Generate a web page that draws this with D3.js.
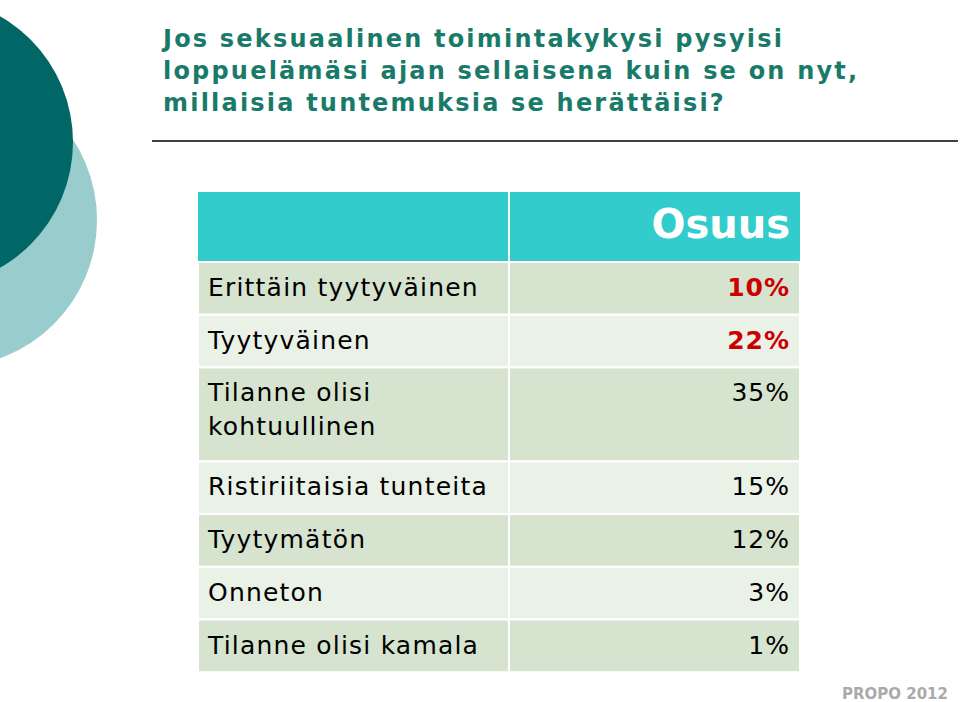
<!DOCTYPE html>
<html><head><meta charset="utf-8">
<script src="https://cdn.jsdelivr.net/npm/d3@7"></script>
<style>body{margin:0;background:#fff}svg{display:block}</style>
</head><body>
<script>
const titleLines = ["Jos seksuaalinen toimintakykysi pysyisi", "loppuelämäsi ajan sellaisena kuin se on nyt,", "millaisia tuntemuksia se herättäisi?"];
const header = "Osuus";
const categories = [["Erittäin tyytyväinen"], ["Tyytyväinen"], ["Tilanne olisi", "kohtuullinen"], ["Ristiriitaisia tunteita"], ["Tyytymätön"], ["Onneton"], ["Tilanne olisi kamala"]];
const values = [10, 22, 35, 15, 12, 3, 1];
const highlighted = [true, true, false, false, false, false, false];

const svg = d3.select("body").append("svg").attr("width", 960).attr("height", 702);
const font = "DejaVu Sans, Verdana, sans-serif";

svg.append("circle").attr("cx", -50).attr("cy", 220).attr("r", 147).attr("fill", "#99CCCC");
svg.append("circle").attr("cx", -72).attr("cy", 142).attr("r", 145).attr("fill", "#006666");

svg.selectAll("text.title").data(titleLines).join("text")
  .attr("x", 163).attr("y", (d, i) => 47 + i * 32)
  .attr("font-family", font).attr("font-weight", "bold").attr("font-size", 24)
  .attr("letter-spacing", 2.2)
  .attr("fill", "#1A7A6A").text(d => d);
svg.append("line").attr("x1", 152).attr("x2", 958).attr("y1", 141).attr("y2", 141)
  .attr("stroke", "#000").attr("stroke-width", 1.5);

const x0 = 198, xm = 509, x1 = 800;
const heights = [70].concat(categories.map(c => c.length > 1 ? 94 : 52.7));
const rowTop = [192]; heights.forEach((h, i) => rowTop.push(rowTop[i] + h));

const g = svg.append("g");
g.append("rect").attr("x", x0).attr("y", 192).attr("width", x1 - x0).attr("height", 70).attr("fill", "#33CCCC");
g.append("line").attr("x1", xm).attr("x2", xm).attr("y1", 192).attr("y2", 262).attr("stroke", "#fff").attr("stroke-width", 2);
g.append("text").attr("x", 790).attr("y", 238).attr("text-anchor", "end")
  .attr("font-family", font).attr("font-weight", "bold").attr("font-size", 40).attr("fill", "#fff").text(header);

const rows = g.selectAll("g.row").data(categories).join("g").attr("class", "row")
  .attr("transform", (d, i) => `translate(0,${rowTop[i + 1]})`);
rows.append("rect").attr("x", x0).attr("width", xm - x0).attr("height", (d, i) => heights[i + 1])
  .attr("fill", (d, i) => i % 2 ? "#EAF1E7" : "#D5E3CF").attr("stroke", "#fff").attr("stroke-width", 2);
rows.append("rect").attr("x", xm).attr("width", x1 - xm).attr("height", (d, i) => heights[i + 1])
  .attr("fill", (d, i) => i % 2 ? "#EAF1E7" : "#D5E3CF").attr("stroke", "#fff").attr("stroke-width", 2);
rows.each(function(d) {
  d3.select(this).selectAll("text.cat").data(d).join("text")
    .attr("x", 208).attr("y", (t, j) => 34 + j * 34)
    .attr("font-family", font).attr("font-size", 25).attr("letter-spacing", 1.2)
    .attr("fill", "#000").text(t => t);
});
rows.append("text").attr("x", 790).attr("y", 34).attr("text-anchor", "end")
  .attr("font-family", font).attr("font-size", 25).attr("letter-spacing", 1)
  .attr("font-weight", (d, i) => highlighted[i] ? "bold" : "normal")
  .attr("fill", (d, i) => highlighted[i] ? "#CC0000" : "#000")
  .text((d, i) => d3.format("d")(values[i]) + "%");

svg.append("text").attr("x", 948).attr("y", 699).attr("text-anchor", "end")
  .attr("font-family", font).attr("font-weight", "bold").attr("font-size", 15)
  .attr("fill", "#AAAAAA").text("PROPO 2012");
</script>
</body></html>
